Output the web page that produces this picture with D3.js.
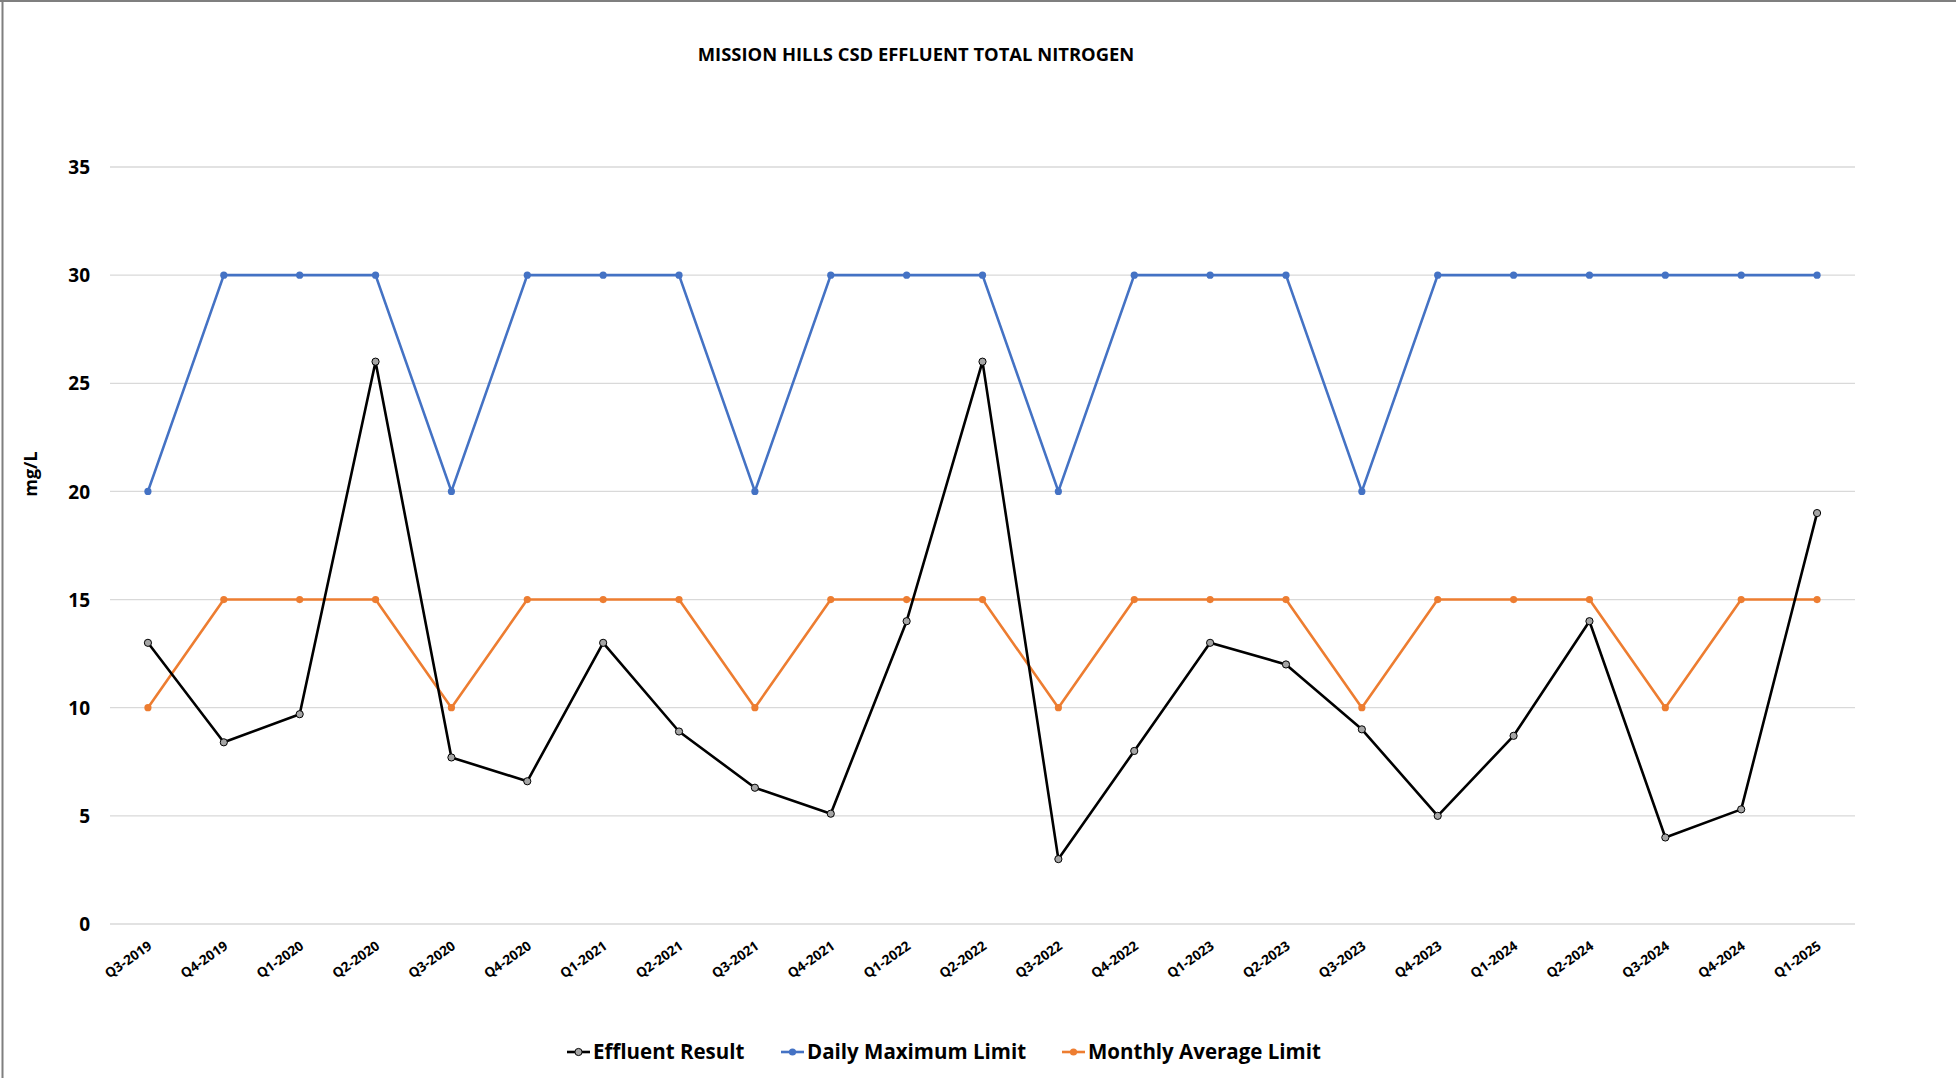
<!DOCTYPE html>
<html><head><meta charset="utf-8">
<script src="https://cdn.jsdelivr.net/npm/d3@7"></script>
<style>body{margin:0;background:#fff}svg{display:block}</style>
</head><body><svg id="c" width="1956" height="1078"></svg>
<script>
const categories = ["Q3-2019","Q4-2019","Q1-2020","Q2-2020","Q3-2020","Q4-2020","Q1-2021","Q2-2021","Q3-2021","Q4-2021","Q1-2022","Q2-2022","Q3-2022","Q4-2022","Q1-2023","Q2-2023","Q3-2023","Q4-2023","Q1-2024","Q2-2024","Q3-2024","Q4-2024","Q1-2025"];
const effluentResult = [13,8.4,9.7,26,7.7,6.6,13,8.9,6.3,5.1,14,26,3.0,8,13,12,9,5,8.7,14,4,5.3,19];
const dailyMaximumLimit = [20,30,30,30,20,30,30,30,20,30,30,30,20,30,30,30,20,30,30,30,30,30,30];
const monthlyAverageLimit = [10,15,15,15,10,15,15,15,10,15,15,15,10,15,15,15,10,15,15,15,10,15,15];
const yTicks = [0,5,10,15,20,25,30,35];
const seriesNames = ["Effluent Result","Daily Maximum Limit","Monthly Average Limit"];

const svg = d3.select("#c");
const font = "'Open Sans', sans-serif";
// border: top and left only
svg.append("line").attr("x1",0).attr("x2",1956).attr("y1",1).attr("y2",1).attr("stroke","#7f7f7f").attr("stroke-width",2);
svg.append("line").attr("x1",2.5).attr("x2",2.5).attr("y1",0).attr("y2",1078).attr("stroke","#7f7f7f").attr("stroke-width",2);

const L=110, R=1855, T=167, B=924;
const x = d3.scaleBand().domain(categories).range([L,R]);
const cx = d => x(d)+x.bandwidth()/2;
const y = d3.scaleLinear().domain([0,35]).range([B,T]);

// gridlines
svg.append("g").selectAll("line").data(yTicks).join("line")
  .attr("x1",L).attr("x2",R).attr("y1",d=>y(d)).attr("y2",d=>y(d))
  .attr("stroke","#d9d9d9").attr("stroke-width",1.3);

// y axis labels
const yAxis = d3.axisLeft(y).tickValues(yTicks).tickSize(0).tickPadding(0);
const gy = svg.append("g").attr("transform",`translate(90,0)`).call(yAxis);
gy.select(".domain").remove();
gy.selectAll("text").attr("font-family",font).attr("font-weight","bold").attr("font-size",19).attr("fill","#000").attr("dy","0.35em");

// x axis labels
const xAxis = d3.axisBottom(x).tickSize(0).tickPadding(0);
const gx = svg.append("g").attr("transform",`translate(0,${B})`).call(xAxis);
gx.select(".domain").remove();
gx.selectAll("text").attr("font-family",font).attr("font-weight","bold").attr("font-size",13.5).attr("fill","#000")
  .attr("text-anchor","end").attr("dy",0).attr("y",0)
  .attr("transform","translate(5,24) rotate(-35)");

// title
svg.append("text").attr("x",916).attr("y",61).attr("text-anchor","middle")
  .attr("font-family",font).attr("font-weight","bold").attr("font-size",18.4).attr("fill","#000")
  .text("MISSION HILLS CSD EFFLUENT TOTAL NITROGEN");

// y title
svg.append("text").attr("transform","translate(37,474) rotate(-90)").attr("text-anchor","middle")
  .attr("font-family",font).attr("font-weight","bold").attr("font-size",18).attr("fill","#000").text("mg/L");

const line = d3.line().x((d,i)=>cx(categories[i])).y(d=>y(d));
function drawSeries(vals,color,w){
  svg.append("path").datum(vals).attr("d",line).attr("fill","none").attr("stroke",color).attr("stroke-width",w).attr("stroke-linejoin","round");
}
drawSeries(dailyMaximumLimit,"#4472c4",2.6);
drawSeries(monthlyAverageLimit,"#ed7d31",2.6);
drawSeries(effluentResult,"#000",2.6);
svg.append("g").selectAll("circle").data(dailyMaximumLimit).join("circle")
  .attr("cx",(d,i)=>cx(categories[i])).attr("cy",d=>y(d)).attr("r",3.6).attr("fill","#4472c4");
svg.append("g").selectAll("circle").data(monthlyAverageLimit).join("circle")
  .attr("cx",(d,i)=>cx(categories[i])).attr("cy",d=>y(d)).attr("r",3.6).attr("fill","#ed7d31");
svg.append("g").selectAll("circle").data(effluentResult).join("circle")
  .attr("cx",(d,i)=>cx(categories[i])).attr("cy",d=>y(d)).attr("r",3.6).attr("fill","#a5a5a5").attr("stroke","#000").attr("stroke-width",1);

// legend
const legX = [567, 781, 1062];
const legColors = ["#000","#4472c4","#ed7d31"];
const lg = svg.append("g");
seriesNames.forEach((n,i)=>{
  const g = lg.append("g").attr("transform",`translate(${legX[i]},1052)`);
  g.append("line").attr("x1",0).attr("x2",23).attr("stroke",legColors[i]).attr("stroke-width",2.6);
  g.append("circle").attr("cx",11.5).attr("r",3.6).attr("fill",i===0?"#a5a5a5":legColors[i]).attr("stroke",i===0?"#000":"none").attr("stroke-width",1);
  g.append("text").attr("x",26).attr("dy","0.35em").attr("font-family",font).attr("font-weight","bold").attr("font-size",20.5).attr("fill","#000").text(n);
});
</script></body></html>
